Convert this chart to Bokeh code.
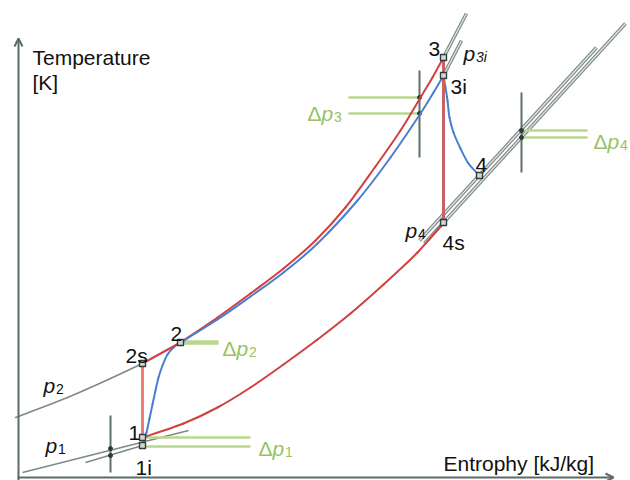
from bokeh.plotting import figure
from bokeh.models import Range1d, Arrow, OpenHead
from bokeh.embed import file_html
from bokeh.resources import INLINE
from bokeh.core.properties import value

# ---------------------------------------------------------------
# Schematic T-s diagram of a gas-turbine (Joule/Brayton) cycle
# with pressure losses.  Entropy s and temperature T are given in
# arbitrary schematic units.
# ---------------------------------------------------------------

# cycle state points
state_names = ["1", "1i", "2s", "2", "3", "3i", "4", "4s"]
state_s = [142, 142, 142, 180, 443, 443, 479, 443]
state_T = [43, 35, 117, 138, 423, 405, 305, 258]

# ideal heat addition along p2 (2 -> 3)
heat_s = [180, 217, 250, 283, 315, 345, 375, 400, 420, 432, 443]
heat_T = [138, 163, 187, 212, 240, 273, 314, 350, 383, 403, 423]

# real heat addition with pressure loss (2 -> 3i)
heat_real_s = [180, 217, 250, 283, 317, 357, 390, 420, 433, 443]
heat_real_T = [138, 161, 184, 208, 237, 280, 323, 367, 388, 405]

# heat rejection along p1 (4s -> 1)
reject_s = [142, 183, 217, 250, 283, 317, 350, 383, 417, 443]
reject_T = [43, 57, 73, 93, 116, 141, 167, 196, 228, 258]

# real compression (1i -> 2)
comp_real_s = [142, 146, 149, 152, 155, 158, 162, 167, 173, 180]
comp_real_T = [35, 48, 62, 76, 90, 103, 115, 126, 133, 138]

# real expansion (3i -> 4)
exp_real_s = [443, 445, 447, 449, 453, 460, 468, 479]
exp_real_T = [405, 393, 380, 363, 348, 332, 317, 305]

# isobars (grey)
p2_s, p2_T = [15, 67, 110, 142], [63, 83, 102, 117]
p3_s, p3_T = [443, 466], [423, 467]
p3i_s, p3i_T = [443, 461], [405, 440]
p4_s, p4_T = [419, 596], [240, 433]
p4s_s, p4s_T = [424, 625], [237, 457]
p1_s, p1_T = [22, 188], [8, 50]
p1i_s, p1i_T = [85, 142], [18, 35]

# pressure-loss indicators: bar position and the two pressure levels
dp_names = ["1", "3", "4"]
dp_bar_s = [110, 419, 521]
dp_bar_lo = [8, 323, 308]
dp_bar_hi = [65, 410, 388]
dp_hi_T = [43, 383, 350]
dp_lo_T = [34, 367, 343]
dp_line_s0 = [142, 348, 521]
dp_line_s1 = [250, 419, 587]
dp_cross_T = [[32, 25], [383, 367], [350, 343]]

# ---------------------------------------------------------------
FONT = value("Liberation Sans")
AXIS = "#5b6a6a"
GREY = "#7e8a8a"
RED = "#d24040"
BLUE = "#4a7fd0"
GREEN_LINE = "#b8d88e"
GREEN_TEXT = "#96c266"
BLACK = "#111111"
FS = "21px"

p = figure(width=630, height=480, x_range=Range1d(0, 630), y_range=Range1d(0, 480),
           output_backend="svg", toolbar_location=None, min_border=0,
           x_axis_type=None, y_axis_type=None)
p.grid.visible = False
p.outline_line_color = None
p.background_fill_color = "white"
p.border_fill_color = "white"


def smooth(xs, ys, **kw):
    """Draw a smooth curve through the given points with cubic Bezier pieces."""
    n = len(xs)
    x0, y0, x1, y1, cx0, cy0, cx1, cy1 = ([] for _ in range(8))
    for i in range(n - 1):
        a = max(i - 1, 0)
        b = min(i + 2, n - 1)
        x0.append(xs[i]); y0.append(ys[i])
        x1.append(xs[i + 1]); y1.append(ys[i + 1])
        cx0.append(xs[i] + (xs[i + 1] - xs[a]) / 6.0)
        cy0.append(ys[i] + (ys[i + 1] - ys[a]) / 6.0)
        cx1.append(xs[i + 1] - (xs[b] - xs[i]) / 6.0)
        cy1.append(ys[i + 1] - (ys[b] - ys[i]) / 6.0)
    p.bezier(x0=x0, y0=y0, x1=x1, y1=y1, cx0=cx0, cy0=cy0, cx1=cx1, cy1=cy1,
             line_cap="round", **kw)


# axes with arrow heads
p.add_layout(Arrow(end=OpenHead(size=8, line_color=AXIS, line_width=2),
                   x_start=18, y_start=0, x_end=18, y_end=442,
                   line_color=AXIS, line_width=2))
p.add_layout(Arrow(end=OpenHead(size=8, line_color=AXIS, line_width=2),
                   x_start=17, y_start=3, x_end=613, y_end=3,
                   line_color=AXIS, line_width=2))

# grey isobars
smooth(p2_s, p2_T, line_color=GREY, line_width=1.6)
p.line(p1_s, p1_T, line_color=GREY, line_width=1.6)
p.line(p1i_s, p1i_T, line_color=GREY, line_width=1.6)
for xs, ys in [(p4_s, p4_T), (p4s_s, p4s_T), (p3_s, p3_T), (p3i_s, p3i_T)]:
    p.line(xs, ys, line_color=GREY, line_width=3.6)
    p.line(xs, ys, line_color="#e4e8e8", line_width=1.2)

# pressure-loss bars and green level lines
for i, name in enumerate(dp_names):
    p.segment(x0=[dp_line_s0[i]] * 2, x1=[dp_line_s1[i]] * 2,
              y0=[dp_hi_T[i], dp_lo_T[i]], y1=[dp_hi_T[i], dp_lo_T[i]],
              line_color=GREEN_LINE, line_width=2.6)
    p.segment(x0=[dp_bar_s[i]], x1=[dp_bar_s[i]], y0=[dp_bar_lo[i]], y1=[dp_bar_hi[i]],
              line_color="#5f6e6e", line_width=2)
    p.scatter([dp_bar_s[i]] * 2, dp_cross_T[i], marker="circle", size=4,
              fill_color="#2f3838", line_color="#2f3838")

# single loss line at state 2
p.segment(x0=[state_s[3]], x1=[218], y0=[state_T[3]], y1=[state_T[3]],
          line_color=GREEN_LINE, line_width=4.5)

# cycle paths
smooth(reject_s, reject_T, line_color=RED, line_width=2)
smooth(heat_s, heat_T, line_color=RED, line_width=2)
smooth(heat_real_s, heat_real_T, line_color=BLUE, line_width=2)
smooth(comp_real_s, comp_real_T, line_color=BLUE, line_width=2)
smooth(exp_real_s, exp_real_T, line_color=BLUE, line_width=2)
p.line([state_s[0], state_s[2]], [state_T[0], state_T[2]], line_color="#ef7b72", line_width=3)
p.line([state_s[4], state_s[7]], [state_T[4], state_T[7]], line_color="#c96262", line_width=3)
p.line([state_s[2], state_s[3]], [state_T[2], state_T[3]], line_color=RED, line_width=2)

# state markers
p.scatter(state_s, state_T, marker="square", size=6, fill_color="#d2d7d7",
          line_color="#333c3c", line_width=1.4)

# state labels (offsets from the marker, in screen units)
label_dx = {"1": -14, "1i": -7, "2s": -17, "2": -10, "3": -15, "3i": 7, "4": -4, "4s": -1}
label_dT = {"1": 5, "1i": -22, "2s": 8, "2": 9, "3": 9, "3i": -11, "4": 11, "4s": -20}
p.text([s + label_dx[n] for s, n in zip(state_s, state_names)],
       [t + label_dT[n] for t, n in zip(state_T, state_names)],
       text=state_names, text_font=FONT, text_font_size=FS,
       text_color=BLACK, text_baseline="alphabetic", text_align="left")


def pressure_label(x, y, sub, color, delta=False, sub_italic=False):
    if delta:
        p.text([x], [y], text=["\u0394"], text_font=FONT, text_font_size=FS,
               text_color=color, text_baseline="alphabetic", text_align="left")
        x += 14
    p.text([x], [y], text=["p"], text_font=FONT, text_font_size=FS,
           text_font_style="italic", text_color=color,
           text_baseline="alphabetic", text_align="left")
    p.text([x + 12.5], [y - 3], text=[sub], text_font=FONT, text_font_size="14px",
           text_font_style="italic" if sub_italic else "normal", text_color=color,
           text_baseline="alphabetic", text_align="left")


pressure_label(45, 35, "1", BLACK)
pressure_label(43, 95, "2", BLACK)
pressure_label(463, 427, "3i", BLACK, sub_italic=True)
pressure_label(405, 250, "4", BLACK)

pressure_label(258, 32, "1", GREEN_TEXT, delta=True)
pressure_label(222, 132, "2", GREEN_TEXT, delta=True)
pressure_label(307, 367, "3", GREEN_TEXT, delta=True)
pressure_label(593, 339, "4", GREEN_TEXT, delta=True)

# axis titles
p.text([32, 32], [423, 398], text=["Temperature", "[K]"], text_font=FONT,
       text_font_size=FS, text_color=BLACK, text_baseline="alphabetic", text_align="left")
p.text([443], [17], text=["Entrophy [kJ/kg]"], text_font=FONT,
       text_font_size=FS, text_color=BLACK, text_baseline="alphabetic", text_align="left")

open("out.html", "w").write(file_html(p, INLINE))
